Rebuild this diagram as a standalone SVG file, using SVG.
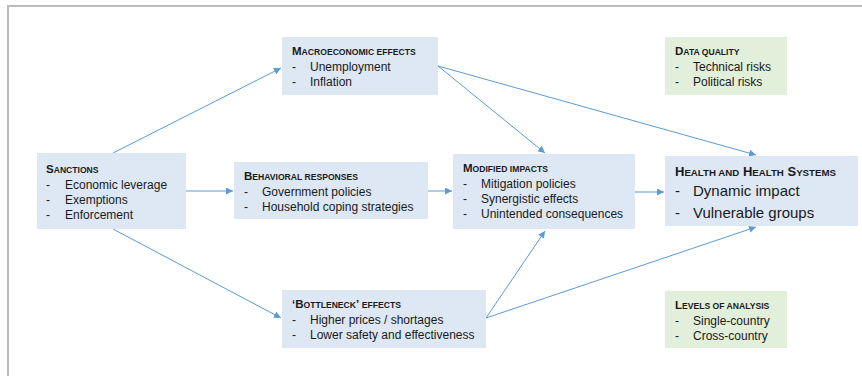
<svg xmlns="http://www.w3.org/2000/svg" width="862" height="376" viewBox="0 0 862 376">
  <style>
    .blue { fill: #dde8f4; }
    .green { fill: #e2efda; }
    text { font-family: "Liberation Sans", Arial, sans-serif; fill: #1a1a1a; }
    .t { font-size: 11.5px; font-weight: bold; }
    .t .s { font-size: 8.6px; }
    .i { font-size: 12px; }
    .ht { font-size: 13px; font-weight: bold; }
    .ht .s { font-size: 9.7px; }
    .hi { font-size: 15px; }
    .edge { stroke: #5b9bd5; stroke-width: 1; fill: none; marker-end: url(#ah); }
  </style>
  <defs>
    <marker id="ah" viewBox="0 0 10 10" refX="10" refY="5" markerWidth="7" markerHeight="7" orient="auto" markerUnits="userSpaceOnUse">
      <path d="M0,0 L10,5 L0,10 z" fill="#5b9bd5"/>
    </marker>
  </defs>

  <rect width="862" height="376" fill="#ffffff"/>
  <!-- frame -->
  <path d="M8,376 V6 H862" stroke="#bcbcbc" stroke-width="2" fill="none"/>

  <g id="connectors">
    <line class="edge" x1="113" y1="153" x2="281" y2="68"/>
    <line class="edge" x1="186" y1="191" x2="233" y2="191"/>
    <line class="edge" x1="113" y1="229" x2="281" y2="318"/>
    <line class="edge" x1="438" y1="66" x2="545" y2="153"/>
    <line class="edge" x1="438" y1="66" x2="756" y2="155"/>
    <line class="edge" x1="428" y1="191" x2="452" y2="191"/>
    <line class="edge" x1="635" y1="192" x2="664" y2="192"/>
    <line class="edge" x1="486" y1="318" x2="545" y2="231"/>
    <line class="edge" x1="486" y1="318" x2="756" y2="227"/>
  </g>

  <g id="sanctions">
    <rect class="blue" x="37" y="153" width="149" height="76"/>
    <text class="t" x="46" y="173">S<tspan class="s">ANCTIONS</tspan></text>
    <text class="i" x="46" y="189">-</text><text class="i" x="65" y="189">Economic leverage</text>
    <text class="i" x="46" y="204">-</text><text class="i" x="65" y="204">Exemptions</text>
    <text class="i" x="46" y="219">-</text><text class="i" x="65" y="219">Enforcement</text>
  </g>

  <g id="macro">
    <rect class="blue" x="282" y="37" width="156" height="58"/>
    <text class="t" x="292" y="55">M<tspan class="s">ACROECONOMIC EFFECTS</tspan></text>
    <text class="i" x="292" y="71">-</text><text class="i" x="310" y="71">Unemployment</text>
    <text class="i" x="292" y="86">-</text><text class="i" x="310" y="86">Inflation</text>
  </g>

  <g id="behavioral">
    <rect class="blue" x="234" y="162" width="194" height="57"/>
    <text class="t" x="244" y="180">B<tspan class="s">EHAVIORAL RESPONSES</tspan></text>
    <text class="i" x="244" y="196">-</text><text class="i" x="262" y="196">Government policies</text>
    <text class="i" x="244" y="211">-</text><text class="i" x="262" y="211">Household coping strategies</text>
  </g>

  <g id="bottleneck">
    <rect class="blue" x="282" y="290" width="204" height="58"/>
    <text class="t" x="292" y="308">‘B<tspan class="s">OTTLENECK</tspan>’ <tspan class="s">EFFECTS</tspan></text>
    <text class="i" x="292" y="324">-</text><text class="i" x="310" y="324">Higher prices / shortages</text>
    <text class="i" x="292" y="339">-</text><text class="i" x="310" y="339">Lower safety and effectiveness</text>
  </g>

  <g id="modified">
    <rect class="blue" x="453" y="154" width="182" height="75"/>
    <text class="t" x="463" y="172">M<tspan class="s">ODIFIED IMPACTS</tspan></text>
    <text class="i" x="463" y="188">-</text><text class="i" x="481" y="188">Mitigation policies</text>
    <text class="i" x="463" y="203">-</text><text class="i" x="481" y="203">Synergistic effects</text>
    <text class="i" x="463" y="218">-</text><text class="i" x="481" y="218">Unintended consequences</text>
  </g>

  <g id="health">
    <rect class="blue" x="665" y="156" width="193" height="70"/>
    <text class="ht" x="675" y="176">H<tspan class="s">EALTH AND</tspan> H<tspan class="s">EALTH</tspan> S<tspan class="s">YSTEMS</tspan></text>
    <text class="hi" x="675" y="196">-</text><text class="hi" x="693" y="196">Dynamic impact</text>
    <text class="hi" x="675" y="218">-</text><text class="hi" x="693" y="218">Vulnerable groups</text>
  </g>

  <g id="data-quality">
    <rect class="green" x="665" y="37" width="122" height="58"/>
    <text class="t" x="675" y="55">D<tspan class="s">ATA QUALITY</tspan></text>
    <text class="i" x="675" y="71">-</text><text class="i" x="693" y="71">Technical risks</text>
    <text class="i" x="675" y="86">-</text><text class="i" x="693" y="86">Political risks</text>
  </g>

  <g id="levels">
    <rect class="green" x="665" y="291" width="122" height="57"/>
    <text class="t" x="675" y="309">L<tspan class="s">EVELS OF ANALYSIS</tspan></text>
    <text class="i" x="675" y="325">-</text><text class="i" x="693" y="325">Single-country</text>
    <text class="i" x="675" y="340">-</text><text class="i" x="693" y="340">Cross-country</text>
  </g>
</svg>
